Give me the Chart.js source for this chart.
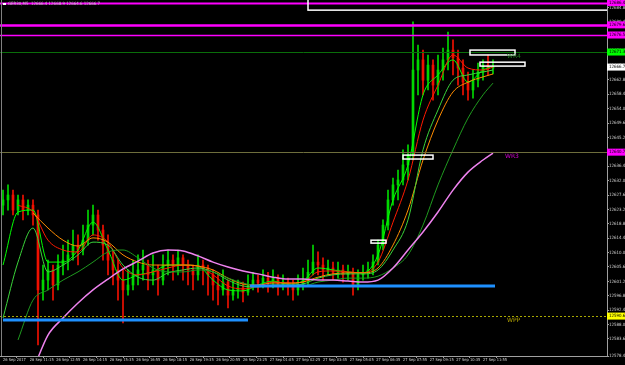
<!DOCTYPE html>
<html>
<head>
<meta charset="utf-8">
<title>GER30 M5</title>
<script src="https://cdn.jsdelivr.net/npm/chart.js@4.4.1/dist/chart.umd.min.js"></script>
<style>
  html, body { margin: 0; padding: 0; background: #000; }
  #wrap { width: 625px; height: 365px; }
</style>
</head>
<body>
<div id="wrap"><canvas id="chart" width="625" height="365"></canvas></div>
<script>
// candles are 15 minute bars, x = bar index
const opens = [12624.5, 12626.1, 12627.6, 12623.0, 12626.1, 12623.0, 12624.5, 12621.5, 12598.6, 12601.6,
    12604.7, 12600.1, 12606.2, 12607.7, 12609.3, 12612.3, 12610.8, 12613.8, 12618.4, 12621.5,
    12616.9, 12612.3, 12607.7, 12604.7, 12601.6, 12598.6, 12600.1, 12603.2, 12604.7, 12606.2,
    12603.2, 12604.7, 12601.6, 12606.2, 12607.7, 12606.2, 12608.4, 12606.2, 12604.7, 12603.2,
    12606.2, 12605.3, 12603.2, 12600.1, 12598.6, 12601.0, 12597.0, 12598.6, 12599.2, 12597.9,
    12600.1, 12601.6, 12600.7, 12602.2, 12601.0, 12602.2, 12600.1, 12601.0, 12599.8, 12598.6,
    12600.1, 12601.6, 12604.0, 12607.1, 12606.2, 12604.7, 12605.3, 12604.0, 12604.7, 12603.2,
    12604.0, 12600.1, 12603.2, 12604.0, 12604.7, 12607.1, 12612.3, 12618.4, 12626.1, 12630.7,
    12632.2, 12636.8, 12639.8, 12665.8, 12668.9, 12662.7, 12667.3, 12661.2, 12665.8, 12668.9,
    12671.9, 12669.5, 12666.4, 12662.1, 12659.7, 12662.7, 12665.2, 12667.3, 12666.4];
const highs = [12629.1, 12630.7, 12629.1, 12627.6, 12627.6, 12626.1, 12626.1, 12623.0, 12606.2, 12607.7,
    12606.2, 12609.3, 12612.3, 12613.8, 12616.9, 12615.4, 12618.4, 12623.0, 12624.5, 12623.0,
    12618.4, 12615.4, 12610.8, 12607.7, 12604.7, 12604.7, 12607.7, 12609.3, 12610.8, 12607.7,
    12609.3, 12606.2, 12609.3, 12610.8, 12609.3, 12610.8, 12609.3, 12607.7, 12606.2, 12609.3,
    12607.7, 12606.2, 12604.7, 12603.2, 12604.7, 12601.6, 12601.6, 12601.6, 12601.0, 12603.2,
    12604.0, 12603.2, 12604.7, 12604.0, 12604.7, 12603.2, 12603.2, 12602.2, 12601.6, 12603.2,
    12605.3, 12607.7, 12612.3, 12610.2, 12608.4, 12607.7, 12607.1, 12607.1, 12606.2, 12606.2,
    12605.3, 12604.7, 12606.2, 12607.1, 12609.3, 12613.8, 12620.0, 12629.1, 12632.8, 12635.2,
    12641.4, 12642.9, 12680.5, 12673.4, 12671.9, 12670.4, 12668.9, 12670.4, 12672.5, 12677.4,
    12675.0, 12671.9, 12668.9, 12665.2, 12665.8, 12667.9, 12668.9, 12670.4, 12668.9];
const lows = [12621.5, 12623.0, 12621.5, 12621.5, 12620.0, 12621.5, 12618.4, 12581.8, 12595.5, 12598.6,
    12595.5, 12598.6, 12603.2, 12604.7, 12607.7, 12606.2, 12609.3, 12612.3, 12615.4, 12613.8,
    12607.7, 12603.2, 12600.1, 12595.5, 12588.5, 12597.0, 12598.6, 12600.1, 12601.6, 12598.6,
    12600.1, 12597.0, 12600.1, 12603.2, 12601.6, 12603.2, 12601.6, 12600.1, 12598.6, 12601.6,
    12600.1, 12597.0, 12595.5, 12594.0, 12597.0, 12593.1, 12595.5, 12596.1, 12594.9, 12597.0,
    12598.6, 12597.9, 12599.2, 12597.9, 12599.2, 12597.0, 12598.6, 12597.0, 12595.5, 12597.0,
    12598.6, 12600.1, 12603.2, 12603.2, 12601.6, 12603.2, 12601.6, 12602.2, 12601.0, 12601.6,
    12597.0, 12598.6, 12601.6, 12602.2, 12603.2, 12606.2, 12610.8, 12616.9, 12624.5, 12626.1,
    12630.7, 12632.2, 12638.3, 12658.2, 12658.2, 12659.7, 12656.6, 12658.2, 12662.7, 12665.8,
    12664.3, 12661.2, 12658.2, 12656.6, 12657.2, 12660.6, 12662.7, 12664.3, 12664.6];
const closes = [12626.1, 12627.6, 12623.0, 12626.1, 12623.0, 12624.5, 12621.5, 12598.6, 12601.6, 12604.7,
    12600.1, 12606.2, 12607.7, 12609.3, 12612.3, 12610.8, 12613.8, 12618.4, 12621.5, 12616.9,
    12612.3, 12607.7, 12604.7, 12601.6, 12598.6, 12600.1, 12603.2, 12604.7, 12606.2, 12603.2,
    12604.7, 12601.6, 12606.2, 12607.7, 12606.2, 12608.4, 12606.2, 12604.7, 12603.2, 12606.2,
    12605.3, 12603.2, 12600.1, 12598.6, 12601.0, 12597.0, 12598.6, 12599.2, 12597.9, 12600.1,
    12601.6, 12600.7, 12602.2, 12601.0, 12602.2, 12600.1, 12601.0, 12599.8, 12598.6, 12600.1,
    12601.6, 12604.0, 12607.1, 12606.2, 12604.7, 12605.3, 12604.0, 12604.7, 12603.2, 12604.0,
    12600.1, 12603.2, 12604.0, 12604.7, 12607.1, 12612.3, 12618.4, 12626.1, 12630.7, 12632.2,
    12636.8, 12639.8, 12665.8, 12668.9, 12662.7, 12667.3, 12661.2, 12665.8, 12668.9, 12671.9,
    12669.5, 12666.4, 12662.1, 12659.7, 12662.7, 12665.2, 12667.3, 12666.4, 12666.7];

// moving averages, sampled at these bar indexes
const maX = [0, 3, 6, 9, 12, 15, 18, 21, 24, 27, 30, 33, 36, 39, 42, 45, 48, 51, 54, 57, 60, 63, 66, 69, 72, 75, 78, 81, 84, 87, 90, 93, 96, 98];
const maFast = [12606.2, 12622.4, 12623.0, 12607.1, 12607.1, 12610.8, 12619.3, 12610.8, 12601.6, 12603.2, 12604.1, 12606.2, 12606.2, 12605.9, 12601.6, 12598.6, 12598.3, 12600.1, 12601.3, 12600.4, 12601.3, 12605.3, 12604.7, 12604.1, 12603.8, 12609.3, 12626.1, 12636.8, 12658.2, 12664.3, 12668.9, 12662.1, 12665.8, 12667.0];
const maRed = [null, 12624.5, 12622.4, 12613.8, 12610.8, 12610.2, 12615.4, 12613.2, 12605.3, 12603.2, 12604.1, 12605.3, 12606.2, 12605.9, 12603.2, 12599.8, 12598.9, 12599.8, 12601.0, 12600.7, 12601.0, 12604.1, 12604.4, 12604.1, 12603.8, 12607.1, 12619.3, 12632.2, 12650.5, 12661.2, 12670.4, 12666.4, 12665.8, 12666.7];
const maOrange = [null, null, 12622.1, 12617.5, 12613.8, 12612.0, 12614.5, 12613.2, 12609.3, 12607.1, 12606.2, 12606.2, 12606.2, 12605.9, 12604.7, 12602.2, 12600.4, 12600.1, 12600.7, 12600.7, 12601.0, 12602.5, 12603.5, 12603.8, 12603.8, 12605.3, 12612.3, 12623.0, 12638.3, 12650.5, 12659.1, 12662.1, 12663.7, 12664.6];
const maGreen = [12590.0, 12607.1, 12617.5, 12604.1, 12606.2, 12609.3, 12613.2, 12612.3, 12606.2, 12602.5, 12601.6, 12603.8, 12604.7, 12605.3, 12604.1, 12601.6, 12599.8, 12599.5, 12600.1, 12600.1, 12600.4, 12602.2, 12603.2, 12603.5, 12603.5, 12604.7, 12610.8, 12620.0, 12641.4, 12653.6, 12662.7, 12664.3, 12665.2, 12665.8];
const maSlow = [null, 12583.3, 12595.5, 12598.6, 12601.6, 12604.1, 12607.1, 12610.2, 12610.8, 12608.4, 12605.3, 12604.1, 12604.1, 12604.7, 12604.1, 12602.2, 12600.7, 12599.8, 12599.8, 12599.8, 12599.8, 12601.0, 12601.6, 12602.2, 12602.2, 12602.8, 12605.3, 12609.3, 12618.4, 12630.7, 12641.4, 12651.1, 12658.2, 12661.8];
const maPink = [null, null, 12574.1, 12584.8, 12590.0, 12594.6, 12598.6, 12601.9, 12605.0, 12607.4, 12609.9, 12610.8, 12610.5, 12609.0, 12607.1, 12605.6, 12604.4, 12603.5, 12602.5, 12601.9, 12601.9, 12601.6, 12601.6, 12601.3, 12601.0, 12601.6, 12605.3, 12610.8, 12616.3, 12622.4, 12629.1, 12634.6, 12638.3, 12640.4];

// axis labels
const xTickLabels = ['26 Sep 2017', '26 Sep 11:15', '26 Sep 12:55', '26 Sep 14:15', '26 Sep 15:35', '26 Sep 16:55',
    '26 Sep 18:15', '26 Sep 19:35', '26 Sep 20:55', '26 Sep 23:25', '27 Sep 01:05', '27 Sep 02:25', '27 Sep 03:45',
    '27 Sep 05:05', '27 Sep 06:35', '27 Sep 07:55', '27 Sep 09:15', '27 Sep 10:35', '27 Sep 11:55'];
const yTickValues = [12578.4, 12583.6, 12588.0, 12592.4, 12596.8, 12601.2, 12605.6, 12610.0, 12614.4, 12618.8,
    12623.2, 12627.6, 12632.0, 12636.4, 12640.8, 12645.2, 12649.6, 12654.0, 12658.4, 12662.8, 12667.2,
    12671.6, 12676.0, 12680.4, 12684.8];

// pivot / level lines
const levelPrices = [12686.4, 12679.6, 12676.5, 12671.3, 12640.7, 12590.6];
const levelNames = ['', '', '', 'WR4', 'WR3', 'WPP'];
// blue horizontal segments
const segFrom = [0, 49.4];
const segTo = [49, 98.4];
const segPrices = [12589.4, 12599.8];
// white rectangles
const boxFrom = [61, 93.4, 95.4, 80, 73.6];
const boxTo = [125, 102.4, 104.4, 86, 76.6];
const boxHigh = [12690.0, 12671.9, 12668.2, 12639.8, 12613.8];
const boxLow = [12684.1, 12670.4, 12667.0, 12638.6, 12612.9];

const levelStyle = [
    { color: '#ff00ff', width: 2, dash: [] },
    { color: '#ff00ff', width: 2.5, dash: [] },
    { color: '#ff00ff', width: 1.5, dash: [] },
    { color: '#0a6e0a', width: 1, dash: [] },
    { color: '#6e6e3c', width: 1, dash: [] },
    { color: '#a8a800', width: 1, dash: [2, 2] }
];
const levelText = [null, null, null,
    { color: '#1d7a1d', x: 100.8 },
    { color: '#d000d0', x: 100.4 },
    { color: '#b0a000', x: 100.8 }];
const tagColors = ['#ff00ff', '#ff00ff', '#ff00ff', '#00ff00', '#ff00ff', '#ffff00'];

const UP = '#00d800';
const DOWN = '#f01000';
const smallFont = { family: 'DejaVu Sans Condensed', size: 4.4 };
const dateFont = { family: 'DejaVu Sans Condensed', size: 4 };

const candleColors = closes.map(function (c, i) { return c >= opens[i] ? UP : DOWN; });

function maPoints(values) {
    return maX.map(function (v, k) { return { x: v, y: values[k] }; });
}

function lineSet(values, color, width) {
    return {
        type: 'line',
        data: maPoints(values),
        borderColor: color,
        borderWidth: width,
        pointRadius: 0,
        cubicInterpolationMode: 'monotone',
        spanGaps: false,
        order: 0
    };
}

const overlayPlugin = {
    id: 'overlay',
    beforeDraw(chart) {
        const ctx = chart.ctx;
        ctx.save();
        ctx.fillStyle = '#000';
        ctx.fillRect(0, 0, chart.width, chart.height);
        ctx.restore();
    },
    afterDatasetsDraw(chart) {
        const ctx = chart.ctx;
        const a = chart.chartArea;
        const x = chart.scales.x, y = chart.scales.y;
        ctx.save();
        ctx.beginPath();
        ctx.rect(a.left, a.top, a.right - a.left, a.bottom - a.top);
        ctx.clip();

        levelPrices.forEach(function (p, k) {
            const s = levelStyle[k];
            const py = Math.round(y.getPixelForValue(p)) + 0.5;
            ctx.strokeStyle = s.color;
            ctx.lineWidth = s.width;
            ctx.setLineDash(s.dash);
            ctx.beginPath();
            ctx.moveTo(a.left, py);
            ctx.lineTo(a.right, py);
            ctx.stroke();
        });
        ctx.setLineDash([]);

        ctx.strokeStyle = '#1e90ff';
        ctx.lineWidth = 3;
        segPrices.forEach(function (p, k) {
            const py = y.getPixelForValue(p);
            ctx.beginPath();
            ctx.moveTo(x.getPixelForValue(segFrom[k]), py);
            ctx.lineTo(x.getPixelForValue(segTo[k]), py);
            ctx.stroke();
        });

        ctx.strokeStyle = '#ffffff';
        ctx.lineWidth = 1.5;
        boxFrom.forEach(function (b, k) {
            const x0 = x.getPixelForValue(b), x1 = x.getPixelForValue(boxTo[k]);
            const y0 = y.getPixelForValue(boxHigh[k]), y1 = y.getPixelForValue(boxLow[k]);
            ctx.strokeRect(x0, y0, x1 - x0, y1 - y0);
        });

        ctx.font = '6px "DejaVu Sans"';
        ctx.textBaseline = 'top';
        ctx.textAlign = 'left';
        levelNames.forEach(function (name, k) {
            const t = levelText[k];
            if (!t) return;
            ctx.fillStyle = t.color;
            ctx.fillText(name, x.getPixelForValue(t.x), y.getPixelForValue(levelPrices[k]) + 1);
        });
        ctx.restore();
    },
    afterDraw(chart) {
        const ctx = chart.ctx;
        const a = chart.chartArea;
        const y = chart.scales.y;
        ctx.save();
        // left border
        ctx.strokeStyle = '#808080';
        ctx.lineWidth = 1;
        ctx.beginPath();
        ctx.moveTo(1.5, 0);
        ctx.lineTo(1.5, a.bottom);
        ctx.stroke();

        // price tags on the axis
        ctx.font = '4.4px "DejaVu Sans Condensed"';
        ctx.textBaseline = 'middle';
        ctx.textAlign = 'left';
        const tags = levelPrices.map(function (p, k) { return { p: p, c: tagColors[k] }; });
        tags.push({ p: closes[closes.length - 1], c: '#ffffff' });
        tags.forEach(function (t) {
            const py = y.getPixelForValue(t.p);
            ctx.fillStyle = t.c;
            ctx.fillRect(a.right, py - 3.5, chart.width - a.right, 7);
            ctx.fillStyle = '#000';
            ctx.fillText(t.p.toFixed(1), a.right + 2, py);
        });

        // title
        ctx.fillStyle = '#ffffff';
        ctx.fillRect(3, 3, 3, 2);
        ctx.fillStyle = '#c8c8c8';
        ctx.textBaseline = 'top';
        ctx.fillText('GER30,M5  ' + opens[opens.length - 1].toFixed(1) + ' ' + highs[highs.length - 1].toFixed(1) + ' ' +
            lows[lows.length - 1].toFixed(1) + ' ' + closes[closes.length - 1].toFixed(1), 8, 2);
        ctx.restore();
    }
};

new Chart(document.getElementById('chart'), {
    type: 'bar',
    data: {
        datasets: [
            {
                type: 'bar',
                data: lows.map(function (l, i) { return { x: i, y: [l, highs[i]] }; }),
                backgroundColor: candleColors,
                barThickness: 1,
                grouped: false,
                order: 2
            },
            {
                type: 'bar',
                data: opens.map(function (o, i) { return { x: i, y: [o, closes[i]] }; }),
                backgroundColor: candleColors,
                barThickness: 2,
                minBarLength: 1,
                grouped: false,
                order: 1
            },
            lineSet(maPink, '#ee82ee', 1.5),
            lineSet(maSlow, '#1f9a1f', 1),
            lineSet(maGreen, '#3ad43a', 1),
            lineSet(maOrange, '#ff8c00', 1),
            lineSet(maRed, '#ff1a00', 1),
            lineSet(maFast, '#00ff00', 1)
        ]
    },
    options: {
        responsive: false,
        devicePixelRatio: 1,
        animation: false,
        layout: { padding: 0 },
        plugins: { legend: { display: false }, tooltip: { enabled: false } },
        scales: {
            x: {
                type: 'linear',
                min: -0.6,
                max: 120.8,
                offset: false,
                grid: { display: true, drawOnChartArea: false, drawTicks: true, tickLength: 2, color: '#a0a0a0' },
                border: { display: true, color: '#a0a0a0' },
                ticks: {
                    align: 'start',
                    autoSkip: false,
                    maxRotation: 0,
                    padding: 0,
                    color: '#d0d0d0',
                    font: dateFont,
                    callback: function (value, index) { return xTickLabels[index]; }
                },
                afterBuildTicks: function (scale) {
                    // one label every 80 minutes (16 five-minute bars)
                    scale.ticks = xTickLabels.map(function (t, k) { return { value: k * 16 / 3 }; });
                },
                afterFit: function (scale) {
                    scale.height = 9;
                    scale.paddingLeft = 0;
                    scale.paddingRight = 0;
                }
            },
            y: {
                type: 'linear',
                position: 'right',
                min: 12578.4,
                max: 12687.2,
                grid: { display: true, drawOnChartArea: false, drawTicks: true, tickLength: 2, color: '#a0a0a0' },
                border: { display: true, color: '#a0a0a0' },
                ticks: {
                    autoSkip: false,
                    padding: 0,
                    color: '#d0d0d0',
                    font: smallFont,
                    callback: function (value) { return value.toFixed(1); }
                },
                afterBuildTicks: function (scale) {
                    scale.ticks = yTickValues.map(function (v) { return { value: v }; });
                },
                afterFit: function (scale) {
                    scale.width = 18;
                    scale.paddingTop = 0;
                    scale.paddingBottom = 0;
                }
            }
        }
    },
    plugins: [overlayPlugin]
});
</script>
</body>
</html>
